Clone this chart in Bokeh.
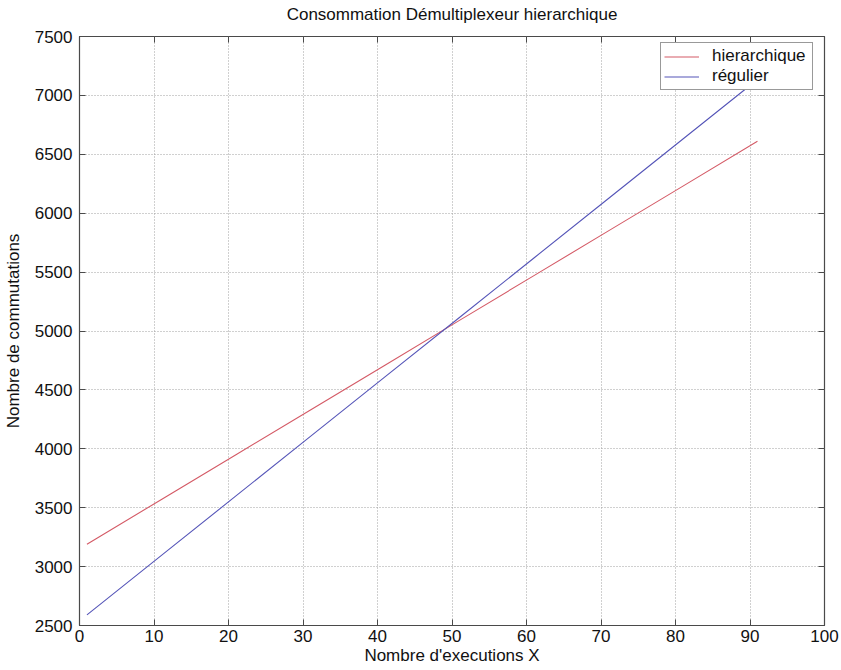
from bokeh.plotting import figure
from bokeh.models import LinearAxis, Legend, LegendItem, FixedTicker, Range1d, CustomLabelingPolicy
from bokeh.embed import file_html
from bokeh.resources import INLINE

# ---- data ----
executions = [1, 11, 21, 31, 41, 51, 61, 71, 81, 91]
hierarchique = [3190, 3570, 3950, 4330, 4710, 5090, 5470, 5850, 6230, 6610]
regulier = [2590, 3095, 3600, 4105, 4610, 5115, 5620, 6125, 6630, 7135]
x_ticks = [0, 10, 20, 30, 40, 50, 60, 70, 80, 90, 100]
y_ticks = [2500, 3000, 3500, 4000, 4500, 5000, 5500, 6000, 6500, 7000, 7500]

FONT = "Liberation Sans"
FS = "17px"
FRAME = "#4a4a4a"

p = figure(frame_width=745, frame_height=589, output_backend="svg", toolbar_location=None,
           x_range=Range1d(0, 100), y_range=Range1d(2500, 7500),
           min_border_left=72, min_border_right=8, min_border_top=29, min_border_bottom=0,
           title="Consommation Démultiplexeur hierarchique")

p.title.align = "center"
p.title.text_font = FONT
p.title.text_font_size = "17px"
p.title.text_font_style = "normal"
p.title.text_color = "#111111"
p.title.offset = 0
p.title.padding = 4
p.title.standoff = -4

p.outline_line_color = FRAME
p.outline_line_width = 1.2
p.background_fill_color = "white"
p.border_fill_color = "white"

for ax, ticks in ((p.xaxis[0], x_ticks), (p.yaxis[0], y_ticks)):
    ax.ticker = FixedTicker(ticks=ticks)
    ax.major_tick_in = 6
    ax.major_tick_out = 0
    ax.minor_tick_in = 0
    ax.minor_tick_out = 0
    ax.axis_line_color = FRAME
    ax.major_tick_line_color = FRAME
    ax.major_label_text_font = FONT
    ax.major_label_text_font_size = FS
    ax.major_label_text_color = "#111111"
    ax.axis_label_text_font = FONT
    ax.axis_label_text_font_size = FS
    ax.axis_label_text_font_style = "normal"
    ax.axis_label_text_color = "#111111"

p.xaxis[0].axis_label = "Nombre d'executions X"
p.yaxis[0].axis_label = "Nombre de commutations"
p.xaxis[0].major_label_standoff = 4
p.xaxis[0].axis_label_standoff = 1
p.yaxis[0].major_label_standoff = 7
p.yaxis[0].axis_label_standoff = 9

# mirrored ticks on top and right (MATLAB style), without labels
no_labels = CustomLabelingPolicy(code="for (const i of indices) { indices.unset(i) } return indices")
for loc, ticks in (("above", x_ticks), ("right", y_ticks)):
    ax = LinearAxis(ticker=FixedTicker(ticks=ticks))
    ax.major_tick_in = 6
    ax.major_tick_out = 0
    ax.minor_tick_in = 0
    ax.minor_tick_out = 0
    ax.axis_line_color = None
    ax.major_tick_line_color = FRAME
    ax.major_label_policy = no_labels
    ax.major_label_standoff = 0
    p.add_layout(ax, loc)

p.xgrid.ticker = FixedTicker(ticks=x_ticks)
p.ygrid.ticker = FixedTicker(ticks=y_ticks)
for g in (p.xgrid[0], p.ygrid[0]):
    g.grid_line_color = "#a0a0a0"
    g.grid_line_dash = "1 2"
    g.grid_line_width = 1

r1 = p.line(executions, hierarchique, line_color="#d45a66", line_width=1.1)
r2 = p.line(executions, regulier, line_color="#5555b8", line_width=1.1)

legend = Legend(items=[LegendItem(label="hierarchique", renderers=[r1]),
                       LegendItem(label="régulier", renderers=[r2])],
                location=(581, 535))
legend.label_text_font = FONT
legend.label_text_font_size = FS
legend.label_text_color = "#111111"
legend.padding = 3
legend.spacing = 0
legend.margin = 0
legend.glyph_width = 35
legend.glyph_height = 19
legend.label_height = 19
legend.label_width = 97
legend.label_standoff = 13
legend.border_line_color = "#333333"
legend.border_line_width = 1
legend.background_fill_alpha = 1.0
p.add_layout(legend, "center")

open("out.html", "w").write(file_html(p, INLINE))
